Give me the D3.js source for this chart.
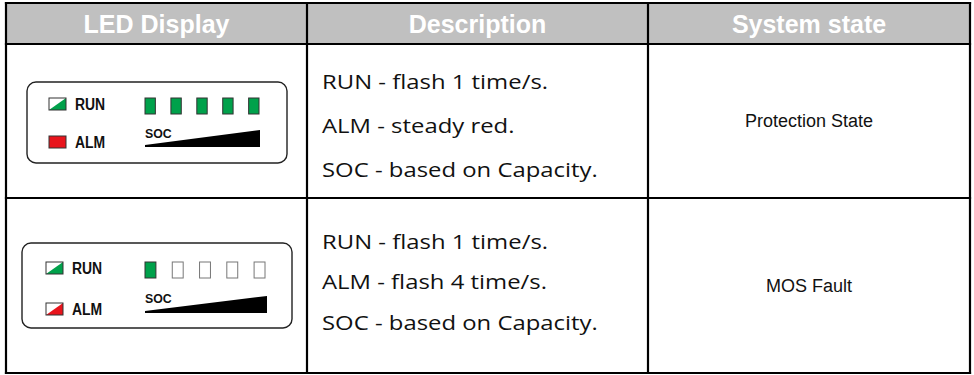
<!DOCTYPE html>
<html><head><meta charset="utf-8">
<script src="https://cdn.jsdelivr.net/npm/d3@7/dist/d3.min.js"></script>
<style>html,body{margin:0;padding:0;background:#fff;}svg{display:block;}</style>
</head><body>
<svg id="c" width="974" height="375"></svg>
<script>
// ---- data ----
const headers = ["LED Display", "Description", "System state"];
const descriptions = [
  ["RUN - flash 1 time/s.", "ALM - steady red.", "SOC - based on Capacity."],
  ["RUN - flash 1 time/s.", "ALM - flash 4 time/s.", "SOC - based on Capacity."]
];
const states = ["Protection State", "MOS Fault"];
const socLit = [5, 1];             // lit SOC LEDs out of 5
const almMode = ["steady", "flash"];
const runMode = ["flash", "flash"];
const socLeds = [1, 2, 3, 4, 5];

// ---- layout ----
const colEdges = [6, 307, 648, 970];
const rowEdges = [3, 44, 198, 373];
const panels = [
  {x: 27, y: 82, w: 260, h: 81, icon: 49, label: 75, runY: 98, almY: 136, ledX0: 145, ledX1: 259, ledY: 98, socY: 138, wedgeY: 147, wedgeX1: 260},
  {x: 22, y: 243, w: 270, h: 85, icon: 46, label: 72, runY: 262, almY: 303, ledX0: 145, ledX1: 265, ledY: 262, socY: 303, wedgeY: 313, wedgeX1: 267}
];
const descLines = [[89, 133, 177], [249, 289, 330]];
const GREEN = "#00a14b", RED = "#e8141c", HEAD = "#c0c0c0";

const svg = d3.select("#c");

// header background
svg.append("rect").attr("x", colEdges[0]).attr("y", rowEdges[0])
  .attr("width", colEdges[3] - colEdges[0]).attr("height", rowEdges[1] - rowEdges[0]).attr("fill", HEAD);

svg.selectAll("text.h").data(headers).join("text").attr("class", "h")
  .attr("x", (d, i) => (colEdges[i] + colEdges[i + 1]) / 2)
  .attr("y", 33).attr("text-anchor", "middle")
  .attr("font-family", "Liberation Sans, Arial, sans-serif").attr("font-weight", "bold")
  .attr("font-size", 25).attr("fill", "#fff").text(d => d);

// description text: ~20px glyph height, stretched so longest line is ~276px wide
const descFont = "Open Sans, Noto Sans, sans-serif";
const descSize = 20;
const probe = svg.append("text").attr("font-family", descFont).attr("font-size", descSize).text(descriptions[0][2]);
const pw = probe.node().getComputedTextLength();
probe.remove();
const sx = 276 / pw;
descriptions.forEach((lines, r) => {
  svg.selectAll(null).data(lines).join("text")
    .attr("transform", (d, i) => `translate(${colEdges[1] + 15},${descLines[r][i]}) scale(${sx},1)`)
    .attr("font-family", descFont).attr("font-size", descSize)
    .attr("fill", "#111").text(d => d);
});

// states
svg.selectAll("text.s").data(states).join("text").attr("class", "s")
  .attr("x", (colEdges[2] + colEdges[3]) / 2)
  .attr("y", (d, i) => (rowEdges[i + 1] + rowEdges[i + 2]) / 2 + 6)
  .attr("text-anchor", "middle")
  .attr("font-family", "Liberation Sans, Arial, sans-serif").attr("font-size", 18)
  .attr("fill", "#111").text(d => d);

// LED panels
panels.forEach((p, r) => {
  const g = svg.append("g");
  g.append("rect").attr("x", p.x).attr("y", p.y).attr("width", p.w).attr("height", p.h)
    .attr("rx", 9).attr("fill", "#fff").attr("stroke", "#222").attr("stroke-width", 1.4);

  const iw = 17, ih = 12;
  function icon(y, color, full) {
    g.append("rect").attr("x", p.icon).attr("y", y).attr("width", iw).attr("height", ih)
      .attr("fill", full ? color : "#fff");
    if (!full) g.append("path")
      .attr("d", `M${p.icon + iw},${y} L${p.icon + iw},${y + ih} L${p.icon},${y + ih} Z`).attr("fill", color);
    g.append("rect").attr("x", p.icon).attr("y", y).attr("width", iw).attr("height", ih)
      .attr("fill", "none").attr("stroke", "#333").attr("stroke-width", 1);
  }
  icon(p.runY, GREEN, runMode[r] === "steady");
  icon(p.almY, RED, almMode[r] === "steady");

  const lab = (t, y) => g.append("text")
    .attr("transform", `translate(${p.label},${y}) scale(0.82,1)`)
    .attr("font-family", "Liberation Sans, Arial, sans-serif").attr("font-weight", "bold")
    .attr("font-size", 17).attr("fill", "#111").text(t);
  lab("RUN", p.runY + 12);
  lab("ALM", p.almY + 12);

  const lx = d3.scaleBand().domain(socLeds).range([p.ledX0, p.ledX1]).paddingInner(0.6).paddingOuter(0);
  g.selectAll(null).data(socLeds).join("rect")
    .attr("x", d => lx(d)).attr("y", p.ledY).attr("width", lx.bandwidth()).attr("height", 16)
    .attr("fill", d => d <= socLit[r] ? GREEN : "#fff")
    .attr("stroke", d => d <= socLit[r] ? "#333" : "#777").attr("stroke-width", 1);

  g.append("text")
    .attr("transform", `translate(${p.ledX0},${p.socY}) scale(0.95,1)`)
    .attr("font-family", "Liberation Sans, Arial, sans-serif").attr("font-weight", "bold")
    .attr("font-size", 13).attr("fill", "#111").text("SOC");
  g.append("path")
    .attr("d", `M${p.ledX0},${p.wedgeY - 2} L${p.wedgeX1},${p.wedgeY - 17} L${p.wedgeX1},${p.wedgeY} L${p.ledX0},${p.wedgeY} Z`)
    .attr("fill", "#000");
});

// grid lines
const lines = [];
colEdges.forEach(x => lines.push([x, rowEdges[0], x, rowEdges[3]]));
rowEdges.forEach(y => lines.push([colEdges[0], y, colEdges[3], y]));
svg.selectAll("line").data(lines).join("line")
  .attr("x1", d => d[0]).attr("y1", d => d[1]).attr("x2", d => d[2]).attr("y2", d => d[3])
  .attr("stroke", "#000").attr("stroke-width", 2.2).attr("stroke-linecap", "square");
</script>
</body></html>
